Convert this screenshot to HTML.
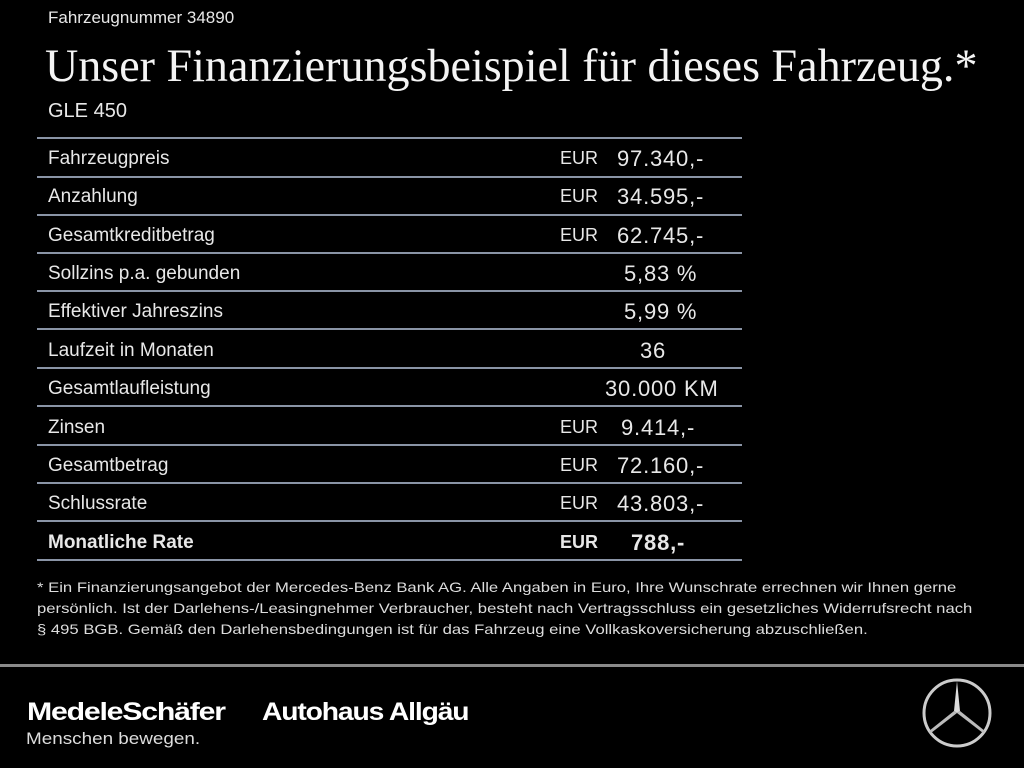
<!DOCTYPE html>
<html><head><meta charset="utf-8"><style>
body{margin:0;background:#000;width:1024px;height:768px;overflow:hidden;position:relative;font-family:"Liberation Sans",sans-serif;color:#e8e8e8}
.a{position:absolute;white-space:nowrap}
.ln{position:absolute;left:37px;width:705px;height:2px;background:#8a94a6}
.lb{position:absolute;left:48px;font-size:19px;line-height:22px;top:1px}
.eur{position:absolute;left:560px;font-size:18px;line-height:22px}
.v{position:absolute;left:617px;font-size:22px;line-height:24px;letter-spacing:0.8px}
.fn{position:absolute;left:37px;font-size:14px;line-height:21px;white-space:nowrap;color:#ddd;transform:scaleX(1.19);transform-origin:0 0}
</style></head><body>
<div class="a" style="left:48px;top:8px;font-size:17px">Fahrzeugnummer 34890</div>
<div class="a" style="left:45px;top:38px;font-family:'Liberation Serif',serif;font-size:47px;line-height:56px;transform:scaleX(0.98);transform-origin:0 0;color:#f4f4f4">Unser Finanzierungsbeispiel für dieses Fahrzeug.*</div>
<div class="a" style="left:48px;top:100px;font-size:20px">GLE 450</div>

<div class="ln" style="top:137px"></div>
<div class="ln" style="top:176px"></div>
<div class="ln" style="top:214px"></div>
<div class="ln" style="top:252px"></div>
<div class="ln" style="top:290px"></div>
<div class="ln" style="top:328px"></div>
<div class="ln" style="top:367px"></div>
<div class="ln" style="top:405px"></div>
<div class="ln" style="top:444px"></div>
<div class="ln" style="top:482px"></div>
<div class="ln" style="top:520px"></div>
<div class="ln" style="top:559px"></div>

<div class="lb" style="top:148px">Fahrzeugpreis</div><div class="eur" style="top:147px">EUR</div><div class="v" style="top:147px">97.340,-</div>
<div class="lb" style="top:186px">Anzahlung</div><div class="eur" style="top:185px">EUR</div><div class="v" style="top:185px">34.595,-</div>
<div class="lb" style="top:225px">Gesamtkreditbetrag</div><div class="eur" style="top:224px">EUR</div><div class="v" style="top:224px">62.745,-</div>
<div class="lb" style="top:263px">Sollzins p.a. gebunden</div><div class="v" style="top:262px;left:624px">5,83 %</div>
<div class="lb" style="top:301px">Effektiver Jahreszins</div><div class="v" style="top:300px;left:624px">5,99 %</div>
<div class="lb" style="top:340px">Laufzeit in Monaten</div><div class="v" style="top:339px;left:640px">36</div>
<div class="lb" style="top:378px">Gesamtlaufleistung</div><div class="v" style="top:377px;left:605px">30.000 KM</div>
<div class="lb" style="top:417px">Zinsen</div><div class="eur" style="top:416px">EUR</div><div class="v" style="top:416px;left:621px">9.414,-</div>
<div class="lb" style="top:455px">Gesamtbetrag</div><div class="eur" style="top:454px">EUR</div><div class="v" style="top:454px">72.160,-</div>
<div class="lb" style="top:493px">Schlussrate</div><div class="eur" style="top:492px">EUR</div><div class="v" style="top:492px">43.803,-</div>
<div class="lb" style="top:532px;font-weight:bold">Monatliche Rate</div><div class="eur" style="top:531px;font-weight:bold">EUR</div><div class="v" style="top:531px;left:631px;font-weight:bold">788,-</div>

<div class="fn" style="top:577px">* Ein Finanzierungsangebot der Mercedes-Benz Bank AG. Alle Angaben in Euro, Ihre Wunschrate errechnen wir Ihnen gerne<br>persönlich. Ist der Darlehens-/Leasingnehmer Verbraucher, besteht nach Vertragsschluss ein gesetzliches Widerrufsrecht nach<br>§ 495 BGB. Gemäß den Darlehensbedingungen ist für das Fahrzeug eine Vollkaskoversicherung abzuschließen.</div>

<div style="position:absolute;left:0;top:664px;width:1024px;height:3px;background:#8a8a8a"></div>

<div class="a" style="left:27px;top:698px;font-size:25px;font-weight:bold;letter-spacing:-1px;color:#fff;transform:scaleX(1.21);transform-origin:0 0">MedeleSchäfer</div>
<div class="a" style="left:262px;top:698px;font-size:25px;font-weight:bold;letter-spacing:-1px;color:#fff;transform:scaleX(1.13);transform-origin:0 0">Autohaus Allgäu</div>
<div class="a" style="left:26px;top:729px;font-size:17px;color:#ddd;transform:scaleX(1.11);transform-origin:0 0">Menschen bewegen.</div>

<svg style="position:absolute;left:920px;top:676px" width="74" height="74" viewBox="0 0 74 74">
<circle cx="37" cy="37" r="33" fill="none" stroke="#ccc" stroke-width="3"/>
<polygon points="37,5 40,35 37,37 34,35" fill="#ddd"/>
<polygon points="37,37 40,35 65,55 63,57" fill="#bbb"/>
<polygon points="37,37 34,35 9,55 11,57" fill="#bbb"/>
</svg>
</body></html>
